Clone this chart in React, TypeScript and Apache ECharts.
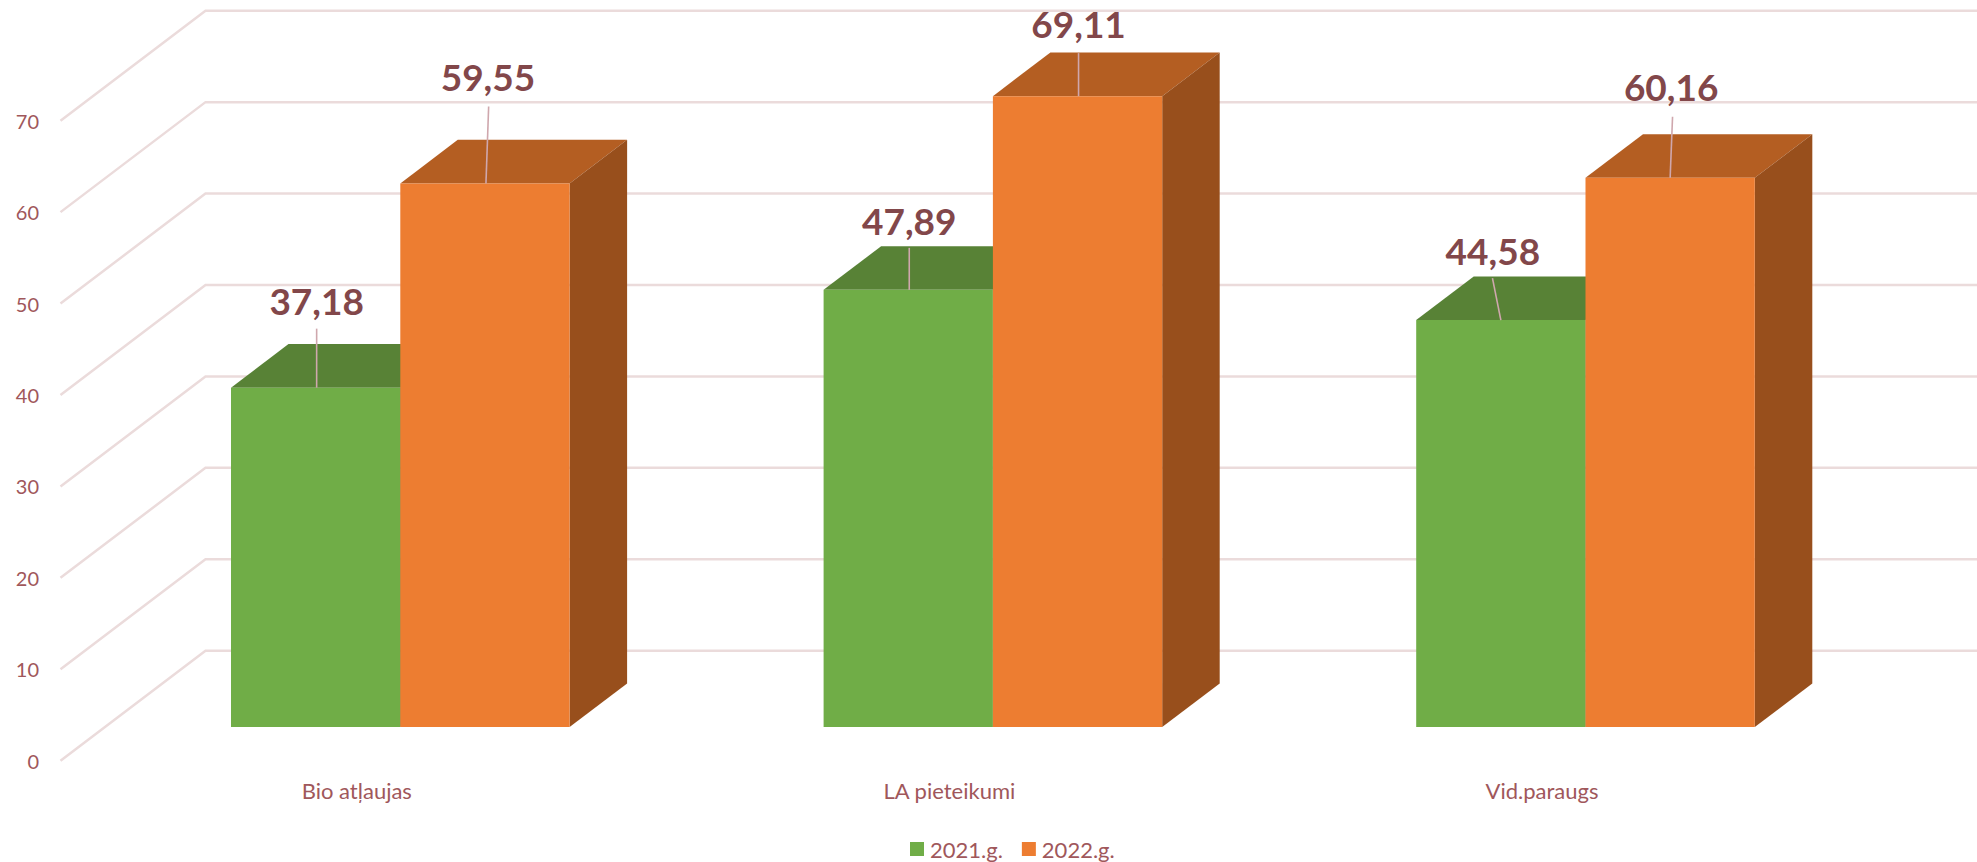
import React, { useEffect, useRef } from "react";
import * as echarts from "echarts";

const categories = ["Bio atļaujas", "LA pieteikumi", "Vid.paraugs"];
const seriesNames = ["2021.g.", "2022.g."];
const values2021 = [37.18, 47.89, 44.58];
const values2022 = [59.55, 69.11, 60.16];
const yTicks = [0, 10, 20, 30, 40, 50, 60, 70];

// Oblique projection used by the imitation of 3D
const WALL_DX = 145;
const WALL_DY = -110;
const BAR_DX = 57.5;
const BAR_DY = -43.6;
const BAR_W = 169.3;

// Leader-line and label offsets from the top-centre of each bar's front face
// [baseDx, endDx, endDy, labelDx, labelDy]
const leaders2021 = [
  [1, 1, -59, 1, -87],
  [1, 1, -42, 1, -69],
  [0, -8.4, -42, -8, -70],
];
const leaders2022 = [
  [1, 3.7, -77, 3, -107],
  [1, 1, -43, 1, -73],
  [0, 2.4, -61, 1, -91],
];

const C = {
  grid: "#ebdbdb",
  axisText: "#a0575b",
  valueText: "#82474a",
  leader: "#cfa7ad",
  green: "#70ad47",
  greenTop: "#588236",
  orange: "#ed7d31",
  orangeTop: "#b45e22",
  orangeSide: "#984f1c",
  greenSide: "#43682b",
};
const FONT = "Lato";

const fmt = (v: number) => v.toFixed(2).replace(".", ",");

function wallItem(params: any, api: any) {
  const cs = params.coordSys;
  const y = api.coord([0, api.value(1)])[1];
  return {
    type: "polyline",
    silent: true,
    shape: {
      points: [
        [cs.x, y],
        [cs.x + WALL_DX, y + WALL_DY],
        [cs.x + WALL_DX + cs.width, y + WALL_DY],
      ],
    },
    style: { stroke: C.grid, lineWidth: 2.5, fill: "none" },
  };
}

function depthItem(sign: number, top: string, side: string) {
  return (_p: any, api: any) => {
    const c = api.coord([api.value(0), api.value(1)]);
    const base = api.coord([api.value(0), 0]);
    const x0 = c[0] + (sign < 0 ? -BAR_W : 0);
    const x1 = x0 + BAR_W;
    const y = c[1];
    return {
      type: "group",
      silent: true,
      children: [
        {
          type: "polygon",
          shape: {
            points: [
              [x0, y],
              [x1, y],
              [x1 + BAR_DX, y + BAR_DY],
              [x0 + BAR_DX, y + BAR_DY],
            ],
          },
          style: { fill: top },
        },
        {
          type: "polygon",
          shape: {
            points: [
              [x1, y],
              [x1 + BAR_DX, y + BAR_DY],
              [x1 + BAR_DX, base[1] + BAR_DY],
              [x1, base[1]],
            ],
          },
          style: { fill: side },
        },
      ],
    };
  };
}

function labelItem(sign: number, offsets: number[][]) {
  return (params: any, api: any) => {
    const c = api.coord([api.value(0), api.value(1)]);
    const cx = c[0] + (sign * BAR_W) / 2;
    const y = c[1];
    const o = offsets[params.dataIndex];
    return {
      type: "group",
      silent: true,
      children: [
        {
          type: "line",
          shape: { x1: cx + o[0], y1: y, x2: cx + o[1], y2: y + o[2] },
          style: { stroke: C.leader, lineWidth: 1.6 },
        },
        {
          type: "text",
          x: cx + o[3],
          y: y + o[4],
          style: {
            text: fmt(api.value(1)),
            fill: C.valueText,
            font: `bold 37px ${FONT}`,
            textAlign: "center",
            textVerticalAlign: "middle",
          },
        },
      ],
    };
  };
}

export default function App() {
  const ref = useRef<HTMLDivElement>(null);
  useEffect(() => {
    document.body.style.margin = "0";
    const chart = echarts.init(ref.current!, undefined, { renderer: "svg" });
    const idx = (a: number[]) => a.map((v, i) => [i, v]);
    chart.setOption({
      animation: false,
      backgroundColor: "#ffffff",
      legend: {
        data: seriesNames,
        left: 910,
        top: 838,
        padding: 0,
        icon: "rect",
        itemWidth: 14,
        itemHeight: 14,
        itemGap: 19,
        selectedMode: false,
        textStyle: { color: C.axisText, fontFamily: FONT, fontSize: 22, padding: [0, 0, 0, 1] },
      },
      grid: [
        { left: 60.5, top: 120.7, width: 1777.8, height: 640 },
        { left: 104, top: 88, width: 1777.8, height: 639.1 },
      ],
      xAxis: [
        {
          type: "category",
          gridIndex: 0,
          data: categories,
          axisLine: { show: false },
          axisTick: { show: false },
          axisLabel: { color: C.axisText, fontFamily: FONT, fontSize: 22, margin: 19 },
        },
        { type: "category", gridIndex: 1, data: categories, show: false },
      ],
      yAxis: [
        {
          type: "value",
          gridIndex: 0,
          min: 0,
          max: 70,
          interval: 10,
          splitLine: { show: false },
          axisLine: { show: false },
          axisTick: { show: false },
          axisLabel: { color: C.axisText, fontFamily: FONT, fontSize: 20, margin: 21.5 },
        },
        { type: "value", gridIndex: 1, min: 0, max: 70, interval: 10, show: false },
      ],
      series: [
        {
          type: "custom",
          name: "walls",
          xAxisIndex: 0,
          yAxisIndex: 0,
          z: 1,
          renderItem: wallItem,
          encode: { x: 0, y: 1 },
          data: yTicks.map((v) => [0, v]),
        },
        {
          type: "custom",
          name: "depth2021",
          xAxisIndex: 1,
          yAxisIndex: 1,
          z: 2,
          renderItem: depthItem(-1, C.greenTop, C.greenSide),
          encode: { x: 0, y: 1 },
          data: idx(values2021),
        },
        {
          type: "custom",
          name: "depth2022",
          xAxisIndex: 1,
          yAxisIndex: 1,
          z: 3,
          renderItem: depthItem(1, C.orangeTop, C.orangeSide),
          encode: { x: 0, y: 1 },
          data: idx(values2022),
        },
        {
          type: "bar",
          name: seriesNames[0],
          xAxisIndex: 1,
          yAxisIndex: 1,
          z: 4,
          barWidth: BAR_W,
          barGap: 0,
          itemStyle: { color: C.green },
          data: values2021,
        },
        {
          type: "bar",
          name: seriesNames[1],
          xAxisIndex: 1,
          yAxisIndex: 1,
          z: 4,
          barWidth: BAR_W,
          barGap: 0,
          itemStyle: { color: C.orange },
          data: values2022,
        },
        {
          type: "custom",
          name: "labels2021",
          xAxisIndex: 1,
          yAxisIndex: 1,
          z: 6,
          renderItem: labelItem(-1, leaders2021),
          encode: { x: 0, y: 1 },
          data: idx(values2021),
        },
        {
          type: "custom",
          name: "labels2022",
          xAxisIndex: 1,
          yAxisIndex: 1,
          z: 6,
          renderItem: labelItem(1, leaders2022),
          encode: { x: 0, y: 1 },
          data: idx(values2022),
        },
      ],
    });
    return () => chart.dispose();
  }, []);
  return <div ref={ref} style={{ position: "fixed", left: 0, top: 0, width: 1977, height: 862 }} />;
}
